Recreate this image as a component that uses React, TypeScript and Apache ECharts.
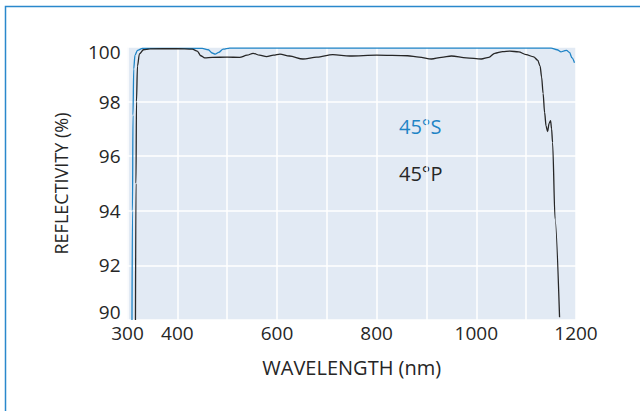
import React, { useEffect, useRef } from "react";
import * as echarts from "echarts";

// 45° S-polarisation reflectivity
const wavelengthsS = [309, 310, 311, 312.5, 315, 320, 330, 450, 462, 470, 476, 483, 492, 505, 1150, 1162, 1170, 1175, 1181, 1187, 1192, 1197];
const reflectS = [90, 94, 97.5, 99.2, 99.7, 99.88, 99.95, 99.95, 99.9, 99.78, 99.74, 99.8, 99.92, 99.96, 99.96, 99.9, 99.82, 99.85, 99.88, 99.8, 99.6, 99.42];

// 45° P-polarisation reflectivity
const wavelengthsP = [316, 317, 318, 320, 324, 332, 345, 400, 430, 440, 447, 455, 470, 500, 525, 540, 552, 565, 579, 593, 606, 625, 652, 680, 712, 746, 800, 862, 885, 910, 930, 950, 980, 1010, 1025, 1037, 1053, 1067, 1085, 1100, 1115, 1123, 1128, 1131, 1134, 1137, 1140, 1143, 1146, 1149, 1151, 1153, 1158, 1167];
const reflectP = [90, 95, 98, 99.3, 99.75, 99.9, 99.93, 99.94, 99.92, 99.85, 99.68, 99.6, 99.62, 99.63, 99.62, 99.7, 99.77, 99.7, 99.65, 99.7, 99.74, 99.67, 99.56, 99.63, 99.72, 99.67, 99.7, 99.68, 99.63, 99.56, 99.62, 99.67, 99.6, 99.56, 99.62, 99.77, 99.83, 99.85, 99.82, 99.72, 99.64, 99.52, 99.3, 98.9, 98.3, 97.6, 97.1, 96.9, 97.2, 97.3, 97.0, 96.5, 93.7, 90.1];

const xLabels = [300, 400, 600, 800, 1000, 1200];
const yLabels = [90, 92, 94, 96, 98, 100];

const FONT = "'Open Sans', 'Noto Sans', sans-serif";
const BLUE = "#1f84c6";
const DARK = "#262626";

const pairs = (xs: number[], ys: number[]) => xs.map((x, i) => [x, ys[i]]);

export default function App() {
  const ref = useRef<HTMLDivElement>(null);

  useEffect(() => {
    if (!ref.current) return;
    const chart = echarts.init(ref.current, undefined, { renderer: "svg" });
    chart.setOption({
      animation: false,
      backgroundColor: "#ffffff",
      grid: {
        left: 127.5,
        right: 64,
        top: 47,
        bottom: 91,
        show: true,
        backgroundColor: "#e2eaf4",
        borderWidth: 0,
      },
      xAxis: {
        type: "value",
        min: 300,
        max: 1200,
        interval: 100,
        name: "WAVELENGTH (nm)",
        nameLocation: "middle",
        nameGap: 37,
        nameTextStyle: { fontFamily: FONT, fontSize: 20, color: DARK },
        axisLine: { show: false },
        axisTick: { show: false },
        splitLine: { show: true, lineStyle: { color: "#ffffff", width: 1.5 } },
        axisLabel: {
          fontFamily: FONT,
          fontSize: 19,
          color: DARK,
          margin: 3,
          formatter: (v: number) => (xLabels.includes(v) ? String(v) : ""),
        },
      },
      yAxis: {
        type: "value",
        min: 90,
        max: 100,
        interval: 2,
        name: "REFLECTIVITY (%)",
        nameLocation: "middle",
        nameGap: 58,
        nameRotate: 90,
        nameTextStyle: { fontFamily: FONT, fontSize: 18, color: DARK },
        axisLine: { show: false },
        axisTick: { show: false },
        splitLine: { show: true, lineStyle: { color: "#ffffff", width: 1.5 } },
        axisLabel: {
          fontFamily: FONT,
          fontSize: 19,
          color: DARK,
          margin: 7,
          formatter: (v: number) => {
            if (!yLabels.includes(v)) return "";
            if (v === 90) return "{low|90}";
            if (v === 100) return "{high|100}";
            return String(v);
          },
          rich: {
            low: { fontFamily: FONT, fontSize: 19, color: DARK, padding: [0, 0, 16, 0] },
            high: { fontFamily: FONT, fontSize: 19, color: DARK, padding: [10, 0, 0, 0] },
          },
        },
      },
      series: [
        {
          name: "45°S",
          type: "line",
          data: pairs(wavelengthsS, reflectS),
          showSymbol: false,
          smooth: 0.3,
          smoothMonotone: "x",
          lineStyle: { color: BLUE, width: 1.3 },
        },
        {
          name: "45°P",
          type: "line",
          data: pairs(wavelengthsP, reflectP),
          showSymbol: false,
          smooth: 0.3,
          smoothMonotone: "x",
          lineStyle: { color: DARK, width: 1.3 },
        },
      ],
      graphic: [
        {
          type: "rect",
          shape: { x: 5.5, y: 6.5, width: 700, height: 500 },
          style: { fill: "none", stroke: "#2a88cc", lineWidth: 1.5 },
          silent: true,
        },
        {
          type: "text",
          left: 399,
          top: 116,
          style: { text: "45°S", fill: BLUE, font: `20px ${FONT}` },
        },
        {
          type: "text",
          left: 399,
          top: 163,
          style: { text: "45°P", fill: DARK, font: `20px ${FONT}` },
        },
      ],
    });
    return () => chart.dispose();
  }, []);

  return (
    <div
      ref={ref}
      style={{ position: "fixed", left: 0, top: 0, width: 640, height: 411 }}
    />
  );
}
